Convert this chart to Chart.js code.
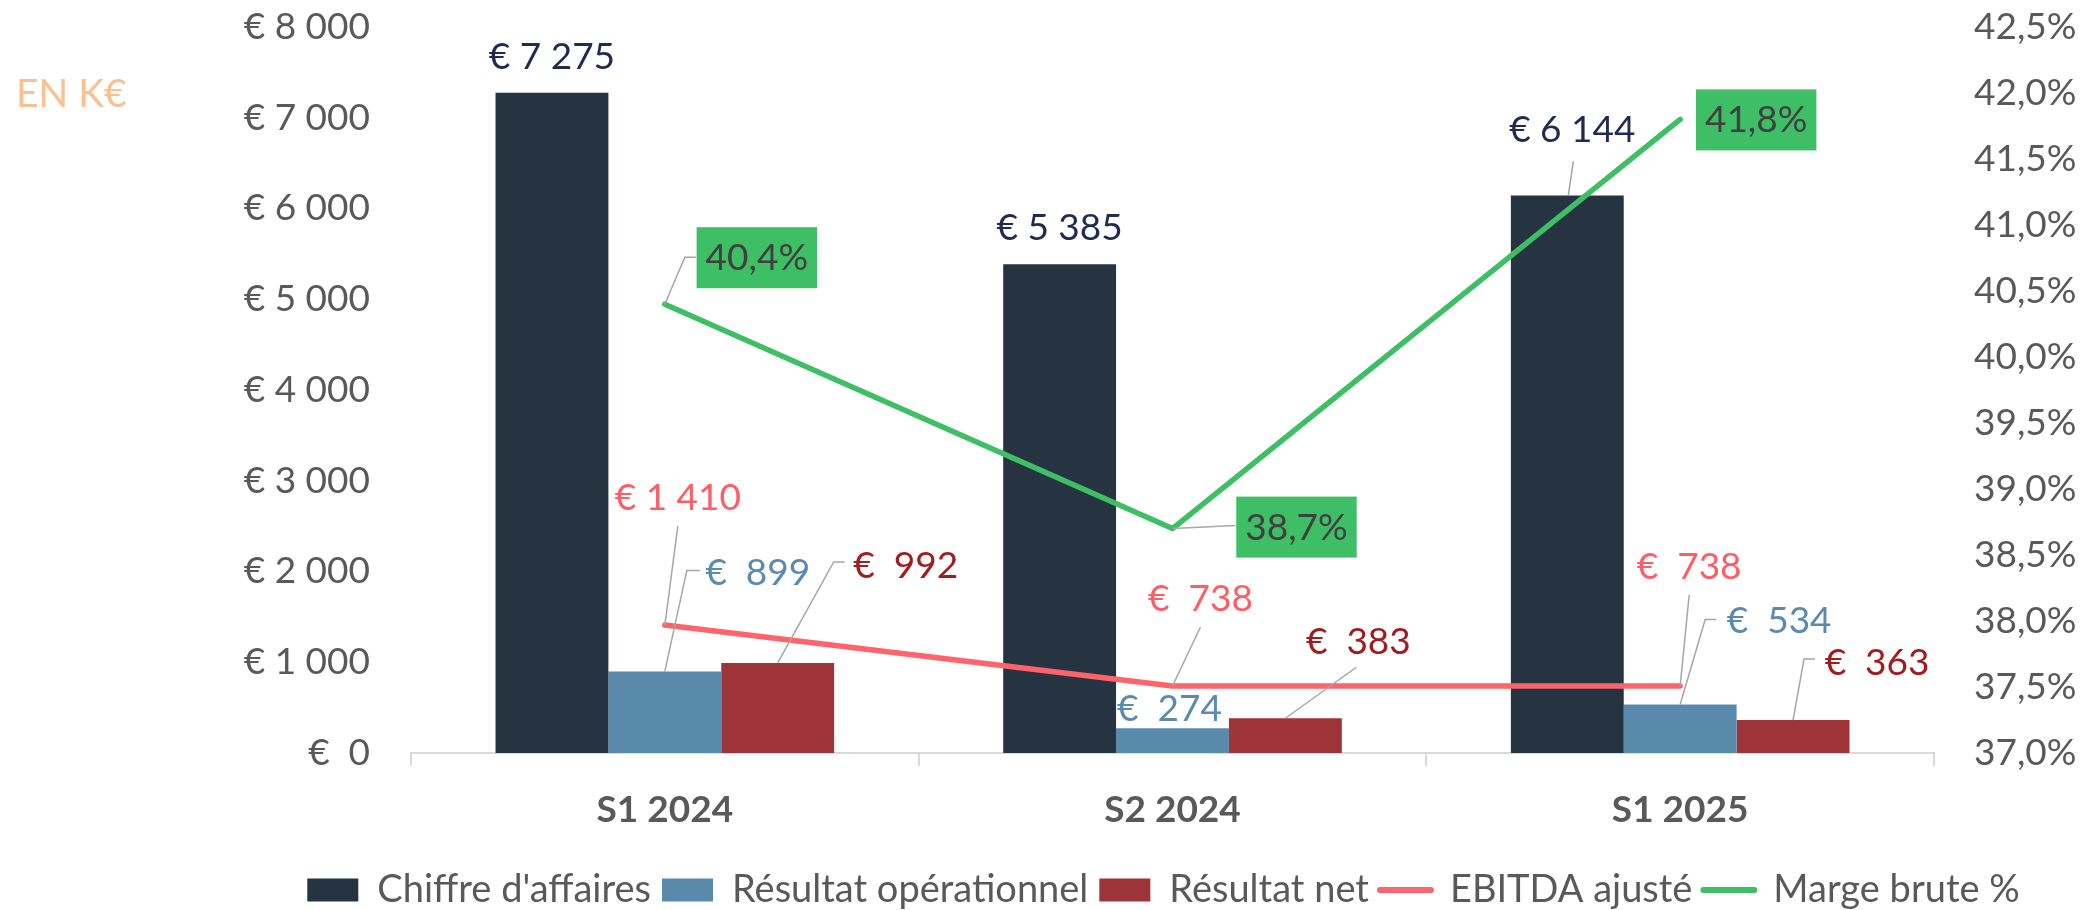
<!DOCTYPE html>
<html lang="fr">
<head>
<meta charset="utf-8">
<title>S1 2024 - S1 2025</title>
<script src="https://cdn.jsdelivr.net/npm/chart.js@4.4.1/dist/chart.umd.min.js"></script>
<style>
  html, body { margin: 0; padding: 0; background: #fff; overflow: hidden; }
  #wrap { width: 2087px; height: 919px; }
</style>
</head>
<body>
<div id="wrap"><canvas id="chart" width="2087" height="919"></canvas></div>
<script>
// values (k€ / %)
const categories = ['S1 2024', 'S2 2024', 'S1 2025'];
const chiffreAffaires = [7275, 5385, 6144];
const resultatOperationnel = [899, 274, 534];
const resultatNet = [992, 383, 363];
const ebitdaAjuste = [1410, 738, 738];
const margeBrute = [40.4, 38.7, 41.8];

// axis ranges
const leftAxis = { min: 0, max: 8000, step: 1000 };
const rightAxis = { min: 37, max: 42.5, step: 0.5 };

const COLORS = {
  ca: '#263442',
  rop: '#5a8aab',
  rnet: '#9e333a',
  ebitda: '#ff636b',
  marge: '#3ebf65',
  tick: '#595959',
  axis: '#d9d9d9',
  leader: '#a6a6a6'
};

// label placement (offset from the bar top / line point), Excel-like leader lines
const labelLayout = [
  [{ dx: 0, dy: -37 }, { dx: 0, dy: -37 }, { dx: 5, dy: -66, leader: [[1, 0], [6, -34]] }],
  [{ dx: 93, dy: -99, leader: [[0, 0], [22, -101], [35, -101]] }, { dx: -3, dy: -20 },
   { dx: 99, dy: -84, leader: [[0, 0], [25, -85], [36, -85]] }],
  [{ dx: 128, dy: -98, leader: [[0, 0], [56, -101], [67, -101]] }, { dx: 73, dy: -77, leader: [[0, 0], [71, -51]] },
   { dx: 84, dy: -58, leader: [[0, 0], [11, -61], [22, -61]] }],
  [{ dx: 13, dy: -128, leader: [[0, 0], [13, -99]] }, { dx: 28, dy: -88, leader: [[0, 0], [28, -59]] },
   { dx: 9, dy: -120, leader: [[0, 0], [9, -91]] }],
  [{ dx: 92, dy: -47, leader: [[0, 0], [20, -47], [31, -47]] }, { dx: 124, dy: -2, leader: [[0, 0], [63, -3]] },
   { dx: 76, dy: 0 }]
];
const labelColors = ['#1f2b4f', '#5a8ab0', '#a01c1e', '#ff5c64', '#404040'];

function thousands(v) {
  return String(Math.round(v)).replace(/\B(?=(\d{3})+(?!\d))/g, ' ');
}
function euro(v) {
  // Excel accounting format pads short numbers
  return Math.abs(v) >= 1000 ? '€ ' + thousands(v) : '€  ' + thousands(v);
}
function pct(v) {
  return v.toFixed(1).replace('.', ',') + '%';
}

Chart.defaults.font.family = 'Lato, "Open Sans", sans-serif';
Chart.defaults.color = COLORS.tick;

const dataLabelsPlugin = {
  id: 'dataLabels',
  afterDatasetsDraw(chart) {
    const ctx = chart.ctx;
    ctx.save();
    chart.data.datasets.forEach((ds, di) => {
      const meta = chart.getDatasetMeta(di);
      meta.data.forEach((el, i) => {
        const lay = labelLayout[di][i];
        const ax = el.x, ay = el.y;
        if (lay.leader) {
          ctx.beginPath();
          ctx.strokeStyle = COLORS.leader;
          ctx.lineWidth = 1.5;
          lay.leader.forEach(([px, py], k) => {
            if (k === 0) ctx.moveTo(ax + px, ay + py);
            else ctx.lineTo(ax + px, ay + py);
          });
          ctx.stroke();
        }
        const v = ds.data[i];
        const text = ds.yAxisID === 'y2' ? pct(v) : euro(v);
        const cx = ax + lay.dx, cy = ay + lay.dy;
        ctx.font = '37px Lato';
        ctx.textAlign = 'center';
        ctx.textBaseline = 'middle';
        if (ds.yAxisID === 'y2') {
          const w = ctx.measureText(text).width + 18;
          ctx.fillStyle = COLORS.marge;
          ctx.fillRect(cx - w / 2, cy - 30, w, 61);
        }
        ctx.fillStyle = labelColors[di];
        ctx.fillText(text, cx, cy + 1);
      });
    });
    ctx.restore();
  }
};

const unitPlugin = {
  id: 'unitLabel',
  afterDraw(chart) {
    const ctx = chart.ctx;
    ctx.save();
    ctx.font = '39px Lato';
    ctx.fillStyle = '#fac090';
    ctx.textAlign = 'left';
    ctx.textBaseline = 'middle';
    ctx.fillText('EN K€', 16, 94);
    ctx.restore();
  }
};

const ctx = document.getElementById('chart').getContext('2d');
new Chart(ctx, {
  data: {
    labels: categories,
    datasets: [
      { type: 'bar', label: "Chiffre d'affaires", data: chiffreAffaires, backgroundColor: COLORS.ca, yAxisID: 'y', order: 1 },
      { type: 'bar', label: 'Résultat opérationnel', data: resultatOperationnel, backgroundColor: COLORS.rop, yAxisID: 'y', order: 1 },
      { type: 'bar', label: 'Résultat net', data: resultatNet, backgroundColor: COLORS.rnet, yAxisID: 'y', order: 1 },
      { type: 'line', label: 'EBITDA ajusté', data: ebitdaAjuste, borderColor: COLORS.ebitda, backgroundColor: COLORS.ebitda,
        borderWidth: 5.5, pointRadius: 0, borderCapStyle: 'round', borderJoinStyle: 'round', yAxisID: 'y', order: 0 },
      { type: 'line', label: 'Marge brute %', data: margeBrute, borderColor: COLORS.marge, backgroundColor: COLORS.marge,
        borderWidth: 5.5, pointRadius: 0, borderCapStyle: 'round', borderJoinStyle: 'round', yAxisID: 'y2', order: 0 }
    ]
  },
  options: {
    responsive: false,
    devicePixelRatio: 1,
    animation: false,
    layout: { padding: { left: 240, right: 0, top: 27, bottom: 0 } },
    datasets: {
      bar: { categoryPercentage: 0.667, barPercentage: 1.0 }
    },
    scales: {
      x: {
        grid: { offset: true, drawOnChartArea: false, drawTicks: true, tickLength: 13, color: COLORS.axis, lineWidth: 2 },
        border: { display: true, color: COLORS.axis, width: 2 },
        ticks: { font: { size: 37, weight: 'bold' }, color: COLORS.tick, padding: 22 },
        afterFit: s => { s.height = 107; }
      },
      y: {
        position: 'left',
        min: leftAxis.min, max: leftAxis.max,
        // invisible tick marks keep the labels away from the plot
        grid: { display: false, drawTicks: true, tickLength: 37 },
        border: { display: false },
        ticks: { stepSize: leftAxis.step, font: { size: 37 }, color: COLORS.tick, padding: 4, callback: v => euro(v) },
        afterFit: s => { s.width = 171; }
      },
      y2: {
        position: 'right',
        min: rightAxis.min, max: rightAxis.max,
        grid: { display: false, drawTicks: true, tickLength: 36 },
        border: { display: false },
        ticks: { stepSize: rightAxis.step, font: { size: 37 }, color: COLORS.tick, padding: 4, callback: v => pct(v) },
        afterFit: s => { s.width = 153; }
      }
    },
    plugins: {
      tooltip: { enabled: false },
      legend: {
        position: 'bottom',
        align: 'center',
        fullSize: true,
        labels: {
          usePointStyle: true,
          pointStyleWidth: 51,
          boxHeight: 23,
          padding: 11,
          color: COLORS.tick,
          font: { size: 38 },
          generateLabels: chart => chart.data.datasets.map((ds, i) => ({
            text: ds.label,
            datasetIndex: i,
            hidden: false,
            fillStyle: ds.type === 'line' ? 'rgba(0,0,0,0)' : ds.backgroundColor,
            strokeStyle: ds.type === 'line' ? ds.borderColor : 'rgba(0,0,0,0)',
            lineWidth: ds.type === 'line' ? 6 : 0,
            lineCap: 'round',
            pointStyle: ds.type === 'line' ? 'line' : 'rect',
            fontColor: COLORS.tick
          }))
        }
      }
    }
  },
  plugins: [dataLabelsPlugin, unitPlugin]
});
</script>
</body>
</html>
